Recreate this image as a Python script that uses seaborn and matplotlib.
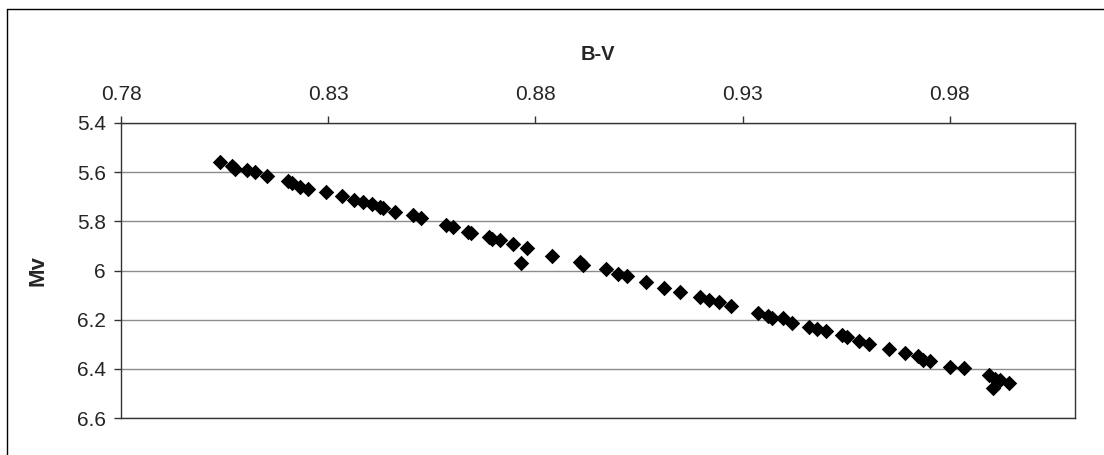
import numpy as np
import pandas as pd
import seaborn as sns
import matplotlib.pyplot as plt
from matplotlib.lines import Line2D

# colour index vs absolute magnitude
bv = [0.8039, 0.8068, 0.8076, 0.8103, 0.8123, 0.8153, 0.8202, 0.8212, 0.8231, 0.8252,
      0.8295, 0.8334, 0.8363, 0.8385, 0.8405, 0.8425, 0.8433, 0.8462, 0.8505, 0.8524,
      0.8585, 0.8600, 0.8638, 0.8644, 0.8687, 0.8695, 0.8714, 0.8745, 0.8765, 0.8780,
      0.8840, 0.8907, 0.8915, 0.8970, 0.9000, 0.9020, 0.9068, 0.9111, 0.9149, 0.9198,
      0.9219, 0.9243, 0.9271, 0.9338, 0.9362, 0.9370, 0.9398, 0.9418, 0.9461, 0.9480,
      0.9501, 0.9540, 0.9551, 0.9580, 0.9605, 0.9654, 0.9691, 0.9724, 0.9736, 0.9753,
      0.9800, 0.9835, 0.9894, 0.9909, 0.9904, 0.9921, 0.9942]
mv = [5.557, 5.573, 5.587, 5.591, 5.599, 5.616, 5.637, 5.644, 5.659, 5.667,
      5.680, 5.698, 5.713, 5.720, 5.730, 5.742, 5.747, 5.761, 5.776, 5.788,
      5.815, 5.824, 5.842, 5.849, 5.864, 5.870, 5.876, 5.891, 5.971, 5.908,
      5.939, 5.964, 5.976, 5.995, 6.014, 6.024, 6.046, 6.070, 6.086, 6.109,
      6.120, 6.127, 6.145, 6.172, 6.185, 6.195, 6.195, 6.215, 6.230, 6.239,
      6.245, 6.263, 6.272, 6.286, 6.301, 6.319, 6.334, 6.349, 6.363, 6.370,
      6.391, 6.398, 6.427, 6.443, 6.476, 6.446, 6.457]

x_ticks = [0.78, 0.83, 0.88, 0.93, 0.98]
x_labels = ["0.78", "0.83", "0.88", "0.93", "0.98"]
y_ticks = [5.4, 5.6, 5.8, 6.0, 6.2, 6.4, 6.6]
y_labels = ["5.4", "5.6", "5.8", "6", "6.2", "6.4", "6.6"]

df = pd.DataFrame({"B-V": bv, "Mv": mv})

sns.set_style("white")
plt.rcParams['font.family'] = ['Liberation Sans', 'DejaVu Sans']

fig = plt.figure(figsize=(11.04, 4.55), dpi=100)
ax = fig.add_axes([121 / 1104, 1 - 418 / 455, (1075 - 121) / 1104, (418 - 123) / 455])

sns.scatterplot(data=df, x="B-V", y="Mv", marker="D", s=62, color="black",
                edgecolor="black", linewidth=0, ax=ax, zorder=3)

ax.set_xlim(0.78, 1.0102)
ax.set_ylim(6.6, 5.4)
ax.set_xticks(x_ticks)
ax.set_xticklabels(x_labels)
ax.set_yticks(y_ticks)
ax.set_yticklabels(y_labels)

ax.xaxis.tick_top()
ax.xaxis.set_label_position("top")
ax.tick_params(axis="x", which="both", top=True, bottom=False, direction="out",
               length=5, width=1, color="#333333", labelsize=15, pad=9)
ax.tick_params(axis="y", left=True, direction="out", length=5, width=1,
               color="#333333", labelsize=15, pad=6)

ax.yaxis.grid(True, color="#8c8c8c", linewidth=1)
ax.xaxis.grid(False)
ax.set_axisbelow(True)
for sp in ax.spines.values():
    sp.set_color("#333333")
    sp.set_linewidth(1)
    sp.set_visible(True)

ax.set_xlabel("B-V", fontsize=14.5, fontweight="bold", labelpad=18)
ax.set_ylabel("Mv", fontsize=16, fontweight="bold", labelpad=20)

# chart area frame (top and left edges)
fig.add_artist(Line2D([7 / 1104, 1.0], [1 - 9 / 455, 1 - 9 / 455], color="black", linewidth=1))
fig.add_artist(Line2D([7 / 1104, 7 / 1104], [0.0, 1 - 9 / 455], color="black", linewidth=1))

fig.savefig("out.png", dpi=100, facecolor="white")
